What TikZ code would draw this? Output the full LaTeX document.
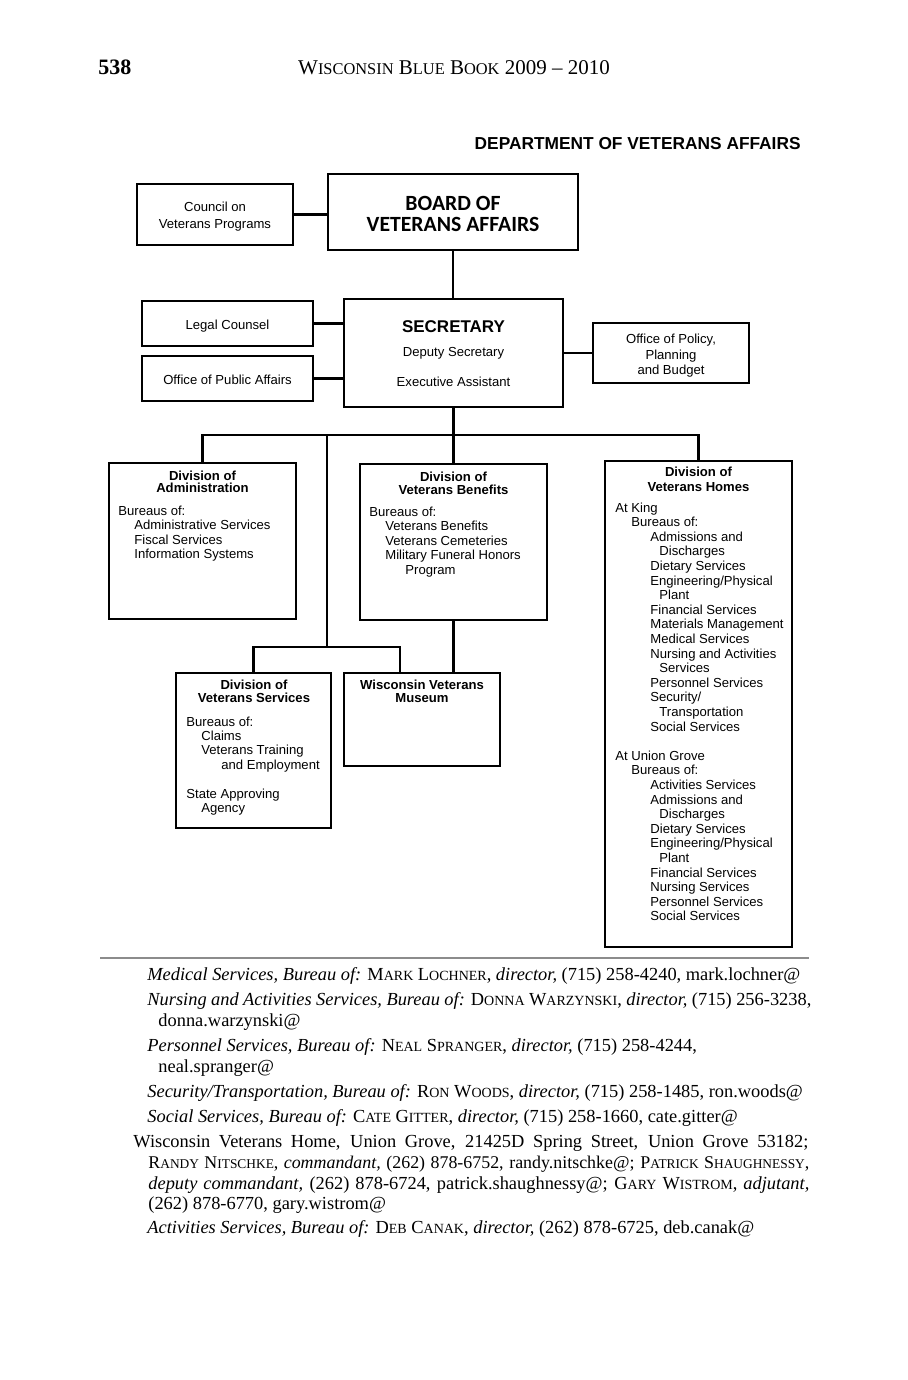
\documentclass[tikz,border=0pt]{standalone}
\usepackage{fontspec}
\setmainfont{Liberation Serif}
\newfontfamily\arialf{Liberation Sans}
\newfontfamily\calibf{Carlito}
\newcommand\bxf{\arialf\fontsize{6.55}{7.3}\selectfont}
\newcommand\bodyf{\fontsize{9.2}{11}\selectfont}
\newcommand\sm[1]{{\fontsize{7.0}{11}\selectfont #1}}
\newcommand\smn[1]{{\fontsize{6.7}{11}\selectfont #1}}
\newcommand\smh[1]{{\fontsize{8.2}{13}\selectfont #1}}
\begin{document}
\begin{tikzpicture}[x=0.5pt,y=-0.5pt,
  orgbox/.style 2 args={draw, line width=1.25pt, inner sep=0pt, minimum width=#1*0.5pt, minimum height=#2*0.5pt},
  conn/.style={line width=1.25pt},
  tx/.style={inner sep=0pt, font=\bxf},
  hd/.style={inner sep=0pt, font=\bxf\bfseries, anchor=base},
  bt/.style={inner sep=0pt, font=\bodyf, anchor=base west}]
\fill[white] (0,0) rectangle (907,1380);
\useasboundingbox (0,0) rectangle (907,1380);

% header
\node[anchor=base west, inner sep=0pt, font=\fontsize{11}{13}\selectfont\bfseries] (pagenum) at (98,75) {538};
\node[anchor=base, inner sep=0pt, font=\fontsize{10.5}{13}\selectfont] (title) at (454,75) {W\smh{ISCONSIN} B\smh{LUE} B\smh{OOK} 2009 – 2010};
\node[anchor=base east, inner sep=0pt, font=\arialf\bfseries\fontsize{8.66}{10}\selectfont] (dept) at (801,150) {DEPARTMENT OF VETERANS AFFAIRS};

% boxes
\node[orgbox={156}{61}] (council) at (215,214.5) {};
\node[orgbox={250}{76}] (board) at (453,212) {};
\node[orgbox={171}{45}] (legal) at (227.5,323.5) {};
\node[orgbox={171}{45}] (public) at (227.5,378.5) {};
\node[orgbox={219}{108}] (sec) at (453.5,353) {};
\node[orgbox={156}{60}] (policy) at (671,353) {};
\node[orgbox={187}{156}] (admin) at (202.5,541) {};
\node[orgbox={187}{156}] (benefits) at (453.5,542) {};
\node[orgbox={187}{486}] (homes) at (698.5,704) {};
\node[orgbox={155}{155}] (services) at (253.5,750.5) {};
\node[orgbox={156}{93}] (museum) at (422,719.5) {};

% junctions
\coordinate (bus) at (453,435);
\coordinate (j1) at (327,435);
\coordinate (j2) at (327,647);
\coordinate (mdrop) at (400,647);

% connectors
\draw[conn] (council.east) -- (council.east -| board.west);
\draw[conn] (board.south) -- (board.south |- sec.north);
\draw[conn] (legal.east) -- (legal.east -| sec.west);
\draw[conn] (public.east) -- (public.east -| sec.west);
\draw[conn] (sec.east) -- (policy.west);
\draw[conn] (sec.south) -- (sec.south |- bus);
\draw[conn] (admin.north) -- (admin.north |- bus) -- (homes.north |- bus) -- (homes.north);
\draw[conn] (benefits.north |- bus) -- (benefits.north);
\draw[conn] (j1) -- (j2);
\draw[conn] (services.north) -- (services.north |- j2) -- (mdrop) -- (mdrop |- museum.north);
\draw[conn] (benefits.south) -- (benefits.south |- museum.north);

% top texts
\node[tx, anchor=base] (council1) at (215,212) {Council on};
\node[tx, anchor=base] (council2) at (215,228) {Veterans Programs};
\node[anchor=base, inner sep=0pt, font=\calibf\bfseries\fontsize{10.85}{11}\selectfont] (board1) at (453,211) {BOARD OF};
\node[anchor=base, inner sep=0pt, font=\calibf\bfseries\fontsize{10.85}{11}\selectfont] (board2) at (453,232) {VETERANS AFFAIRS};
\node[tx, anchor=base] (legal1) at (227.5,329) {Legal Counsel};
\node[tx, anchor=base] (public1) at (227.5,384) {Office of Public Affairs};
\node[anchor=base, inner sep=0pt, font=\arialf\bfseries\fontsize{8.5}{10}\selectfont] (sec1) at (453.5,332) {SECRETARY};
\node[tx, anchor=base] (sec2) at (453.5,356) {Deputy Secretary};
\node[tx, anchor=base] (sec3) at (453.5,386) {Executive Assistant};
\node[tx, anchor=base] (policy1) at (671,343) {Office of Policy,};
\node[tx, anchor=base] (policy2) at (671,359) {Planning};
\node[tx, anchor=base] (policy3) at (671,374) {and Budget};

% division of administration
\node[hd] (admin-h1) at (202.5,480) {Division of};
\node[hd] (admin-h2) at (202.5,492) {Administration};
\foreach [count=\i from 0] \dx/\t in {0/{Bureaus of:}, 16/{Administrative Services}, 16/{Fiscal Services}, 16/{Information Systems}}
  \node[tx, anchor=base west] (admin-l\i) at (118+\dx, 515+14.6*\i) {\t};

% division of veterans benefits
\node[hd] (ben-h1) at (453.5,481) {Division of};
\node[hd] (ben-h2) at (453.5,494) {Veterans Benefits};
\foreach [count=\i from 0] \dx/\t in {0/{Bureaus of:}, 16/{Veterans Benefits}, 16/{Veterans Cemeteries}, 16/{Military Funeral Honors}, 36/{Program}}
  \node[tx, anchor=base west] (ben-l\i) at (369+\dx, 516+14.55*\i) {\t};

% division of veterans homes
\node[hd] (homes-h1) at (698.5,476) {Division of};
\node[hd] (homes-h2) at (698.5,491) {Veterans Homes};
\foreach [count=\i from 0] \dx/\t in {0/{At King}, 16/{Bureaus of:}, 35/{Admissions and}, 44/{Discharges}, 35/{Dietary Services}, 35/{Engineering/Physical}, 44/{Plant}, 35/{Financial Services}, 35/{Materials Management}, 35/{Medical Services}, 35/{Nursing and Activities}, 44/{Services}, 35/{Personnel Services}, 35/{Security/}, 44/{Transportation}, 35/{Social Services}}
  \node[tx, anchor=base west] (homes-k\i) at (615+\dx, 512+14.6*\i) {\t};
\foreach [count=\i from 17] \dx/\t in {0/{At Union Grove}, 16/{Bureaus of:}, 35/{Activities Services}, 35/{Admissions and}, 44/{Discharges}, 35/{Dietary Services}, 35/{Engineering/Physical}, 44/{Plant}, 35/{Financial Services}, 35/{Nursing Services}, 35/{Personnel Services}, 35/{Social Services}}
  \node[tx, anchor=base west] (homes-u\i) at (615+\dx, 512+14.6*\i) {\t};

% division of veterans services
\node[hd] (serv-h1) at (254,689) {Division of};
\node[hd] (serv-h2) at (254,702) {Veterans Services};
\foreach [count=\i from 0] \dx/\t in {0/{Bureaus of:}, 15/{Claims}, 15/{Veterans Training}, 35/{and Employment}}
  \node[tx, anchor=base west] (serv-l\i) at (186+\dx, 726+14.4*\i) {\t};
\foreach [count=\i from 5] \dx/\t in {0/{State Approving}, 15/{Agency}}
  \node[tx, anchor=base west] (serv-l\i) at (186+\dx, 726+14.4*\i) {\t};

% museum
\node[hd] (mus-h1) at (422,689) {Wisconsin Veterans};
\node[hd] (mus-h2) at (422,702) {Museum};

% rule
\coordinate (ruleL) at (100,958);
\coordinate (ruleR) at (809,958);
\draw[black!45, line width=0.6pt] (ruleL) -- (ruleR);

% body text
\node[bt] (b1) at (147,980) {\textit{Medical Services, Bureau of:} M\sm{ARK} L\sm{OCHNER}, \textit{director,} (715) 258-4240, mark.lochner@};
\node[bt] (b2) at (147,1005) {\makebox[332pt][s]{\textit{Nursing and Activities Services, Bureau of:} D\sm{ONNA} W\sm{ARZYNSKI}, \textit{director,} (715) 256-3238,}};
\node[bt] (b3) at (158,1026) {donna.warzynski@};
\node[bt] (b4) at (147,1051) {\textit{Personnel Services, Bureau of:} N\sm{EAL} S\sm{PRANGER}, \textit{director,} (715) 258-4244,};
\node[bt] (b5) at (158,1072) {neal.spranger@};
\node[bt] (b6) at (147,1097) {\textit{Security/Transportation, Bureau of:} R\sm{ON} W\sm{OODS}, \textit{director,} (715) 258-1485, ron.woods@};
\node[bt] (b7) at (147,1122) {\textit{Social Services, Bureau of:} C\sm{ATE} G\sm{ITTER}, \textit{director,} (715) 258-1660, cate.gitter@};
\node[bt] (b8) at (133,1147) {\makebox[337.5pt][s]{Wisconsin Veterans Home, Union Grove, 21425D Spring Street, Union Grove 53182;}};
\node[bt, font=\fontsize{8.95}{11}\selectfont] (b9) at (148,1168) {\makebox[330.5pt][s]{R\smn{ANDY} N\smn{ITSCHKE}, \textit{commandant,} (262) 878-6752, randy.nitschke@; P\smn{ATRICK} S\smn{HAUGHNESSY},}};
\node[bt] (b10) at (148,1189) {\makebox[330.5pt][s]{\textit{deputy commandant,} (262) 878-6724, patrick.shaughnessy@; G\sm{ARY} W\sm{ISTROM}, \textit{adjutant,}}};
\node[bt] (b11) at (148,1209) {(262) 878-6770, gary.wistrom@};
\node[bt] (b12) at (147,1233) {\textit{Activities Services, Bureau of:} D\sm{EB} C\sm{ANAK}, \textit{director,} (262) 878-6725, deb.canak@};
\end{tikzpicture}
\end{document}
